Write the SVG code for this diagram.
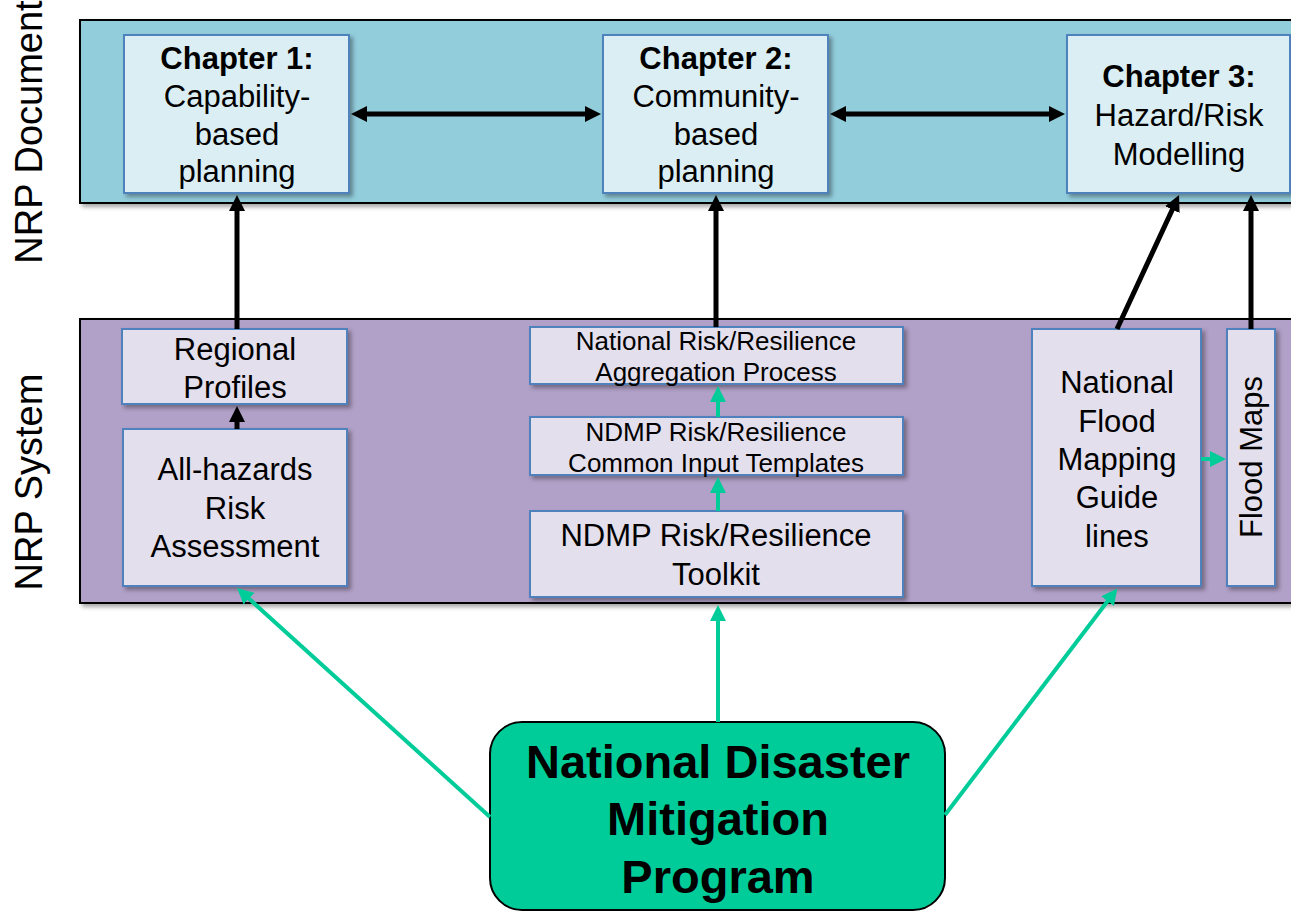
<svg xmlns="http://www.w3.org/2000/svg" width="1291" height="912" viewBox="0 0 1291 912">
<style>
text{font-family:"Liberation Sans",Arial,sans-serif;fill:#000;text-anchor:middle}
.band{stroke:#000;stroke-width:2}
.chap{fill:#DAEEF3;stroke:#4F81BD;stroke-width:2}
.box{fill:#E4DFEC;stroke:#4F81BD;stroke-width:2}
.blk{stroke:#000;stroke-width:5;fill:none}
.grn{stroke:#00CC99;stroke-width:4;fill:none}
.t31{font-size:31px}
.t26{font-size:26px}
.b{font-weight:bold}
</style>
<defs>
<filter id="sh" x="-10%" y="-10%" width="130%" height="130%">
<feDropShadow dx="3" dy="3" stdDeviation="2" flood-color="#000" flood-opacity="0.35"/>
</filter>
<marker id="ab" markerUnits="userSpaceOnUse" markerWidth="16" markerHeight="16" refX="4" refY="8" orient="auto-start-reverse">
<path d="M0,0 L16,8 L0,16 z" fill="#000"/>
</marker>
<marker id="ag" markerUnits="userSpaceOnUse" markerWidth="16" markerHeight="16" refX="4" refY="8" orient="auto-start-reverse">
<path d="M0,0 L16,8 L0,16 z" fill="#00CC99"/>
</marker>
</defs>
<rect width="1291" height="912" fill="#fff"/>

<g id="labels">
<text class="t38" font-size="38" transform="translate(42,132) rotate(-90)">NRP Document</text>
<text font-size="38" transform="translate(42,482) rotate(-90)">NRP System</text>
</g>

<g id="band-document">
<rect class="band" x="80" y="20" width="1230" height="183" fill="#92CDDC" filter="url(#sh)"/>
</g>
<g id="band-system">
<rect class="band" x="80" y="319" width="1230" height="284" fill="#B1A0C7" filter="url(#sh)"/>
</g>

<g id="chapter1">
<rect class="chap" x="124" y="35" width="225" height="158" filter="url(#sh)"/>
<text class="t31 b" x="237" y="69">Chapter 1:</text>
<text class="t31" x="237" y="107">Capability-</text>
<text class="t31" x="237" y="145">based</text>
<text class="t31" x="237" y="182">planning</text>
</g>
<g id="chapter2">
<rect class="chap" x="603" y="35" width="225" height="158" filter="url(#sh)"/>
<text class="t31 b" x="716" y="69">Chapter 2:</text>
<text class="t31" x="716" y="107">Community-</text>
<text class="t31" x="716" y="145">based</text>
<text class="t31" x="716" y="182">planning</text>
</g>
<g id="chapter3">
<rect class="chap" x="1067" y="35" width="223" height="158" filter="url(#sh)"/>
<text class="t31 b" x="1179" y="87">Chapter 3:</text>
<text class="t31" x="1179" y="126">Hazard/Risk</text>
<text class="t31" x="1179" y="165">Modelling</text>
</g>

<g id="regional-profiles">
<rect class="box" x="122" y="329" width="225" height="75" filter="url(#sh)"/>
<text class="t31" x="235" y="360">Regional</text>
<text class="t31" x="235" y="398">Profiles</text>
</g>
<g id="all-hazards">
<rect class="box" x="123" y="429" width="224" height="157" filter="url(#sh)"/>
<text class="t31" x="235" y="480">All-hazards</text>
<text class="t31" x="235" y="519">Risk</text>
<text class="t31" x="235" y="557">Assessment</text>
</g>
<g id="aggregation">
<rect class="box" x="530" y="327" width="373" height="57" filter="url(#sh)"/>
<text class="t26" x="716" y="350">National Risk/Resilience</text>
<text class="t26" x="716" y="381">Aggregation Process</text>
</g>
<g id="templates">
<rect class="box" x="530" y="417" width="373" height="58" filter="url(#sh)"/>
<text class="t26" x="716" y="441">NDMP Risk/Resilience</text>
<text class="t26" x="716" y="472">Common Input Templates</text>
</g>
<g id="toolkit">
<rect class="box" x="530" y="511" width="373" height="86" filter="url(#sh)"/>
<text class="t31" x="716" y="546">NDMP Risk/Resilience</text>
<text class="t31" x="716" y="585">Toolkit</text>
</g>
<g id="flood-guidelines">
<rect class="box" x="1032" y="329" width="169" height="257" filter="url(#sh)"/>
<text class="t31" x="1117" y="393">National</text>
<text class="t31" x="1117" y="432">Flood</text>
<text class="t31" x="1117" y="470">Mapping</text>
<text class="t31" x="1117" y="508">Guide</text>
<text class="t31" x="1117" y="547">lines</text>
</g>
<g id="flood-maps">
<rect class="box" x="1227" y="329" width="48" height="257" filter="url(#sh)"/>
<text class="t31" transform="translate(1262,457) rotate(-90)">Flood Maps</text>
</g>
<g id="ndmp">
<rect x="490" y="722" width="455" height="188" rx="32" fill="#00CC99" stroke="#000" stroke-width="2"/>
<text font-size="47" class="b" x="718" y="778">National Disaster</text>
<text font-size="47" class="b" x="718" y="835">Mitigation</text>
<text font-size="47" class="b" x="718" y="893">Program</text>
</g>

<g id="connectors">
<line class="blk" x1="363" y1="114" x2="589" y2="114" marker-start="url(#ab)" marker-end="url(#ab)"/>
<line class="blk" x1="842" y1="114" x2="1053" y2="114" marker-start="url(#ab)" marker-end="url(#ab)"/>
<line class="blk" x1="237" y1="329" x2="237" y2="207" marker-end="url(#ab)"/>
<line class="blk" x1="716" y1="327" x2="716" y2="207" marker-end="url(#ab)"/>
<line class="blk" x1="1117" y1="329" x2="1174" y2="206" marker-end="url(#ab)"/>
<line class="blk" x1="1251" y1="329" x2="1251" y2="207" marker-end="url(#ab)"/>
<line class="blk" x1="237" y1="429" x2="237" y2="418" marker-end="url(#ab)"/>
<line class="grn" x1="718" y1="511" x2="718" y2="489" marker-end="url(#ag)"/>
<line class="grn" x1="718" y1="417" x2="718" y2="398" marker-end="url(#ag)"/>
<line class="grn" x1="1201" y1="459" x2="1214" y2="459" marker-end="url(#ag)"/>
<line class="grn" x1="490" y1="817" x2="246" y2="596" marker-end="url(#ag)"/>
<line class="grn" x1="718" y1="722" x2="718" y2="617" marker-end="url(#ag)"/>
<line class="grn" x1="945" y1="815" x2="1110" y2="598" marker-end="url(#ag)"/>
</g>
</svg>
